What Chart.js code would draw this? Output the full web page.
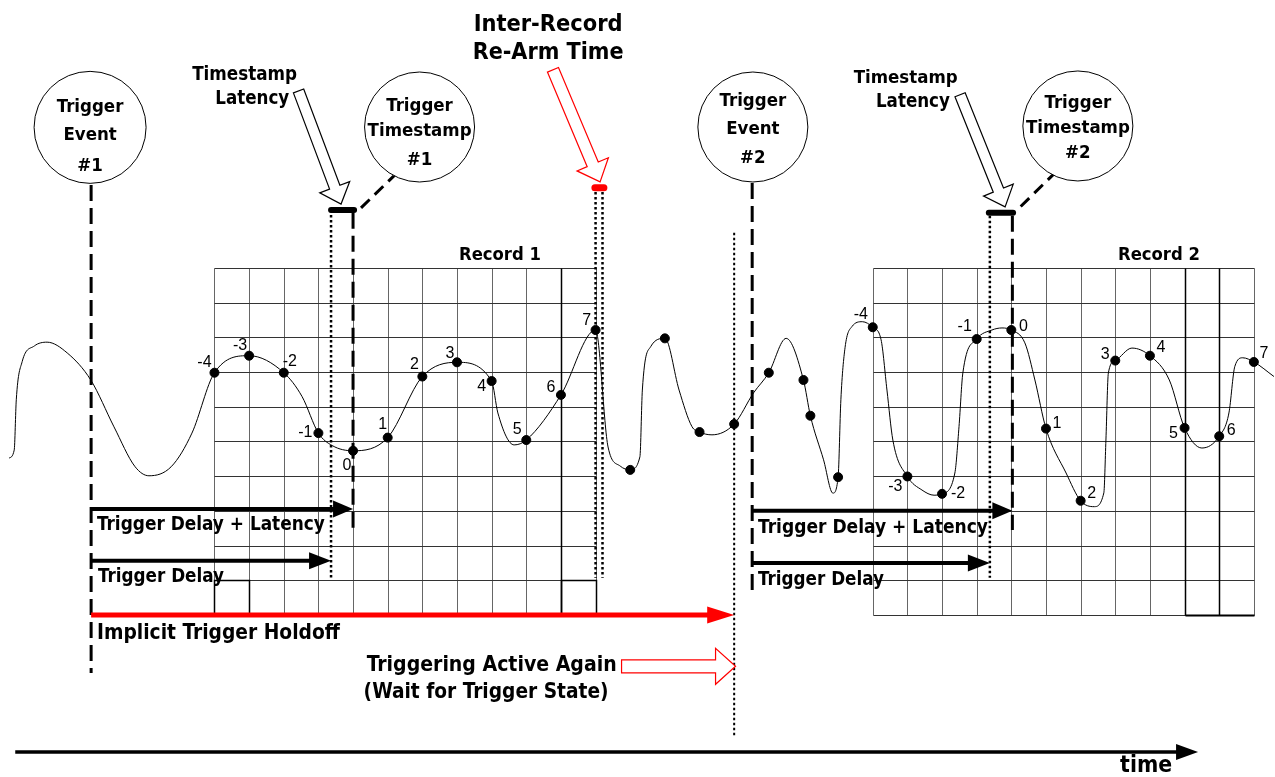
<!DOCTYPE html>
<html>
<head>
<meta charset="utf-8">
<script src="https://cdn.jsdelivr.net/npm/chart.js@4.4.0/dist/chart.umd.min.js"></script>
<style>
html, body { margin: 0; padding: 0; background: #fff; overflow: hidden; }
canvas { display: block; }
</style>
</head>
<body>
<canvas id="c" width="1275" height="777"></canvas>
<script>
/* **** DATA **** */
// x = time in sample periods (record 1 sample 0 at t = 0), y = level in grid divisions

const recordIndex = [-4, -3, -2, -1, 0, 1, 2, 3, 4, 5, 6, 7];
const recordStarts = [0, 19];           // time of sample 0 in record 1 / record 2
const gridRows = 10;

const record1Level = [6.98, 7.47, 6.98, 5.24, 4.73, 5.11, 6.87, 7.28, 6.74, 5.04, 6.34, 8.21];
const record2Level = [8.29, 3.99, 3.49, 7.95, 8.21, 5.37, 3.29, 7.33, 7.47, 5.39, 5.15, 7.29];

// samples taken between the records (not stored)
const gapTime  = [8, 9, 10, 11, 12, 13, 13.2, 14];
const gapLevel = [4.18, 7.97, 5.27, 5.50, 6.98, 6.77, 5.74, 3.97];

// extra points of the analog signal (no sample taken there)
const shapeTime  = [-9.93, -9.78, -9.72, -9.55, -9.2, -8.83, -8.25, -7.57, -6.90, -6.29, -5.89, -5.25, -4.65,
                    -1.47, -0.6, 4.18, 4.65, 7.36, 7.71, 8.28, 8.35, 8.59, 9.41, 9.78, 10.36, 11.56, 12.50,
                    13.58, 13.85, 14.08, 14.2, 14.4, 14.7, 15.24, 15.41, 15.58, 16.42, 16.77, 17.37, 17.49,
                    17.60, 18.44, 18.73, 19.39, 19.68, 20.58, 21.39, 21.67, 21.73, 21.80, 22.48, 23.56, 24.50,
                    25.28, 25.45, 25.68, 26.58];
const shapeLevel = [4.52, 4.75, 6.2, 7.3, 7.75, 7.86, 7.55, 6.77, 5.42, 4.27, 4.01, 4.27, 5.24,
                    6.29, 4.88, 5.82, 4.90, 4.84, 4.29, 4.56, 6.48, 7.73, 6.48, 5.43, 5.19, 6.40, 7.97,
                    4.47, 3.51, 6.2, 7.7, 8.31, 8.45, 7.93, 6.48, 5.04, 3.60, 3.45, 4.09, 5.43,
                    6.97, 8.21, 8.27, 7.84, 6.77, 4.09, 3.12, 3.52, 5.04, 6.97, 7.69, 6.77, 4.81,
                    5.82, 7.16, 7.41, 6.87];

// timing events
const tTrigger1 = -7.56, tDelay1 = -0.635, tStamp1 = 0;
const tRearmA = 7.0, tRearmB = 7.2, tActive = 11.0;
const tTrigger2 = 11.52, tDelay2 = 18.38, tStamp2 = 19.03;

/* **** BUILD **** */

const record1 = recordIndex.map((k, i) => ({x: recordStarts[0] + k, y: record1Level[i]}));
const record2 = recordIndex.map((k, i) => ({x: recordStarts[1] + k, y: record2Level[i]}));
const gap = gapTime.map((t, i) => ({x: t, y: gapLevel[i]}));
const shape = shapeTime.map((t, i) => ({x: t, y: shapeLevel[i]}));
const samples = [...record1, ...gap, ...record2];
const trace = [...samples, ...shape].sort((a, b) => a.x - b.x);

const HEAD = '"DejaVu Sans Condensed", "DejaVu Sans", sans-serif';
const PLAIN = '"Liberation Sans", Arial, sans-serif';

// label offsets (px) of sample numbers
const labelOff1 = [[-10,-10],[-9,-10],[6,-11],[-13,0],[-6,15],[-5,-13],[-8,-12],[-7,-9],[-10,6],[-9,-10],[-10,-7],[-9,-9]];
const labelOff2 = [[-12,-13],[-12,10],[16,0],[-12,-12],[12,-3],[11,-5],[11,-7],[-10,-6],[11,-8],[-11,6],[12,-6],[10,-8]];

function seg(ctx, x1, y1, x2, y2, color, width, dash, cap) {
    ctx.save();
    ctx.strokeStyle = color;
    ctx.lineWidth = width;
    ctx.setLineDash(dash || []);
    ctx.lineCap = cap || 'butt';
    ctx.beginPath();
    ctx.moveTo(x1, y1);
    ctx.lineTo(x2, y2);
    ctx.stroke();
    ctx.restore();
}

function solidArrow(ctx, x1, y, x2, color, width, hl, hh) {
    seg(ctx, x1, y, x2 - hl + 2, y, color, width);
    ctx.save();
    ctx.fillStyle = color;
    ctx.beginPath();
    ctx.moveTo(x2, y);
    ctx.lineTo(x2 - hl, y - hh);
    ctx.lineTo(x2 - hl, y + hh);
    ctx.closePath();
    ctx.fill();
    ctx.restore();
}

function hollowArrow(ctx, x1, y1, x2, y2, color, sh, hh, hl) {
    const L = Math.hypot(x2 - x1, y2 - y1);
    const ux = (x2 - x1) / L, uy = (y2 - y1) / L;
    const nx = -uy, ny = ux;
    const bx = x2 - ux * hl, by = y2 - uy * hl;
    ctx.save();
    ctx.beginPath();
    ctx.moveTo(x1 + nx * sh, y1 + ny * sh);
    ctx.lineTo(bx + nx * sh, by + ny * sh);
    ctx.lineTo(bx + nx * hh, by + ny * hh);
    ctx.lineTo(x2, y2);
    ctx.lineTo(bx - nx * hh, by - ny * hh);
    ctx.lineTo(bx - nx * sh, by - ny * sh);
    ctx.lineTo(x1 - nx * sh, y1 - ny * sh);
    ctx.closePath();
    ctx.fillStyle = '#fff';
    ctx.fill();
    ctx.strokeStyle = color;
    ctx.lineWidth = 1.2;
    ctx.stroke();
    ctx.restore();
}

// font size that makes text as wide as the given width
function fitSize(ctx, text, width) {
    ctx.save();
    ctx.fontStretch = 'condensed';
    ctx.font = 'bold 20px ' + HEAD;
    const s = 20 * width / ctx.measureText(text).width;
    ctx.restore();
    return s;
}

function heading(ctx, text, x, y, size, align) {
    ctx.save();
    ctx.fillStyle = '#000';
    ctx.fontStretch = 'condensed';
    ctx.font = 'bold ' + size.toFixed(2) + 'px ' + HEAD;
    ctx.textAlign = align || 'center';
    ctx.textBaseline = 'middle';
    ctx.fillText(text, x, y);
    ctx.restore();
}

function plain(ctx, text, x, y) {
    ctx.save();
    ctx.fillStyle = '#000';
    ctx.font = '16px ' + PLAIN;
    ctx.textAlign = 'center';
    ctx.textBaseline = 'middle';
    ctx.fillText(text, x, y);
    ctx.restore();
}

const diagram = {
    id: 'diagram',
    beforeDatasetsDraw(chart) {
        const {ctx, scales: {x, y}} = chart;
        const X = v => Math.round(x.getPixelForValue(v)) + 0.5;
        const Y = v => Math.round(y.getPixelForValue(v)) + 0.5;
        recordStarts.forEach((s, r) => {
            const t0 = s + recordIndex[0], t1 = s + recordIndex[recordIndex.length - 1];
            for (let t = t0; t <= t1; t++) seg(ctx, X(t), Y(0), X(t), Y(gridRows), '#666', 1);
            for (let v = 0; v <= gridRows; v++) seg(ctx, X(t0), Y(v), X(t1), Y(v), '#333', 1);
            // darker columns and bottom boxes
            const dark = r === 0 ? [6] : [5, 6];
            dark.forEach(k => seg(ctx, X(s + k), Y(0), X(s + k), Y(gridRows), '#000', 1.5));
            ctx.save();
            ctx.strokeStyle = '#000';
            ctx.lineWidth = 1.5;
            if (r === 0) {
                ctx.strokeRect(X(t0), Y(1), X(t0 + 1) - X(t0), Y(0) - Y(1));
                ctx.strokeRect(X(t1 - 1), Y(1), X(t1) - X(t1 - 1), Y(0) - Y(1));
            } else {
                seg(ctx, X(t1 - 2), Y(0), X(t1), Y(0), '#000', 2);
            }
            ctx.restore();
        });
    },
    afterDatasetsDraw(chart) {
        const {ctx, scales: {x, y}} = chart;
        const X = v => x.getPixelForValue(v);
        const Y = v => y.getPixelForValue(v);

        // sample numbers
        recordIndex.forEach((k, i) => {
            const p1 = record1[i], p2 = record2[i];
            plain(ctx, String(k), X(p1.x) + labelOff1[i][0], Y(p1.y) + labelOff1[i][1]);
            plain(ctx, String(k), X(p2.x) + labelOff2[i][0], Y(p2.y) + labelOff2[i][1]);
        });

        // vertical dashed event lines
        const dashed = [[tTrigger1, 12.39, -1.67], [tTrigger2, 12.45, 0.72], [tStamp1, 11.59, 2.31], [tStamp2, 11.50, 2.45]];
        dashed.forEach(d => seg(ctx, X(d[0]), Y(d[1]), X(d[0]), Y(d[2]), '#000', 3, [16, 7]));
        const dotted = [[tDelay1, 11.67, 1.07, 2.5], [tRearmA, 12.19, 1.07, 2.5], [tRearmB, 12.19, 1.07, 2.5],
                        [tActive, 11.01, -3.52, 2], [tDelay2, 11.50, 1.07, 2.5]];
        dotted.forEach(d => seg(ctx, X(d[0]), Y(d[1]), X(d[0]), Y(d[2]), '#000', d[3], [2.5, 2.5]));

        // timestamp latency bars
        seg(ctx, X(tDelay1), Y(11.67), X(tStamp1 + 0.03), Y(11.67), '#000', 6, null, 'round');
        seg(ctx, X(tDelay2 - 0.03), Y(11.59), X(tStamp2 + 0.02), Y(11.59), '#000', 6, null, 'round');
        seg(ctx, X(6.98), Y(12.31), X(7.24), Y(12.31), '#f00', 7, null, 'round');

        // leaders to timestamp circles
        seg(ctx, X(0.23), Y(11.73), X(1.21), Y(12.68), '#000', 3, [12, 7]);
        seg(ctx, X(19.27), Y(11.77), X(20.23), Y(12.71), '#000', 3, [12, 7]);

        // circles: centre, radius, lines [text, level]
        const circleSize = fitSize(ctx, 'Timestamp', 104);
        const circles = [
            [-7.59, 14.05, 56, [['Trigger', 14.64], ['Event', 13.83], ['#1', 12.94]]],
            [1.92, 14.06, 55, [['Trigger', 14.67], ['Timestamp', 13.95], ['#1', 13.11]]],
            [11.54, 14.06, 55, [['Trigger', 14.81], ['Event', 14.01], ['#2', 13.17]]],
            [20.92, 14.09, 55, [['Trigger', 14.76], ['Timestamp', 14.03], ['#2', 13.31]]]
        ];
        circles.forEach(c => {
            ctx.save();
            ctx.beginPath();
            ctx.arc(X(c[0]), Y(c[1]), c[2], 0, Math.PI * 2);
            ctx.fillStyle = '#fff';
            ctx.fill();
            ctx.strokeStyle = '#000';
            ctx.lineWidth = 1;
            ctx.stroke();
            ctx.restore();
            c[3].forEach(l => heading(ctx, l[0], X(c[0]), Y(l[1]), circleSize));
        });

        // hollow arrows
        hollowArrow(ctx, X(-1.573), Y(15.10), X(-0.346), Y(11.84), '#000', 5.5, 16, 18);
        hollowArrow(ctx, X(17.52), Y(14.99), X(18.82), Y(11.76), '#000', 5.5, 16, 18);
        hollowArrow(ctx, X(5.77), Y(15.71), X(7.13), Y(12.48), '#f00', 6, 17, 19);
        hollowArrow(ctx, X(7.75), Y(-1.48), X(tActive + 0.04), Y(-1.48), '#f00', 6.5, 18, 20);

        // solid arrows
        solidArrow(ctx, X(tTrigger1), Y(3.05), X(tStamp1), '#000', 4, 20, 8.5);
        solidArrow(ctx, X(tTrigger1), Y(1.56), X(tDelay1), '#000', 4, 22, 8.5);
        solidArrow(ctx, X(tTrigger2), Y(3.0), X(tStamp2), '#000', 4, 20, 8.5);
        solidArrow(ctx, X(tTrigger2), Y(1.50), X(tDelay2), '#000', 4, 22, 8.5);
        solidArrow(ctx, X(tTrigger1), Y(0), X(tActive), '#f00', 5, 27, 8.5);
        solidArrow(ctx, X(-9.75), Y(-3.95), X(24.39), '#000', 3.5, 22, 8);

        // texts: text, time, level, width, align
        const texts = [
            ['Inter-Record', 5.63, 17.0, 149, 'center'],
            ['Re-Arm Time', 5.63, 16.20, 151, 'center'],
            ['Timestamp', -3.13, 15.56, 105, 'center'],
            ['Latency', -2.91, 14.87, 74, 'center'],
            ['Timestamp', 15.95, 15.48, 104, 'center'],
            ['Latency', 16.16, 14.79, 74, 'center'],
            ['Record 1', 4.24, 10.37, 82, 'center'],
            ['Record 2', 23.26, 10.37, 82, 'center'],
            ['Trigger Delay + Latency', -7.39, 2.59, 228, 'left'],
            ['Trigger Delay', -7.36, 1.10, 126, 'left'],
            ['Implicit Trigger Holdoff', -7.39, -0.55, 243, 'left'],
            ['Trigger Delay + Latency', 11.69, 2.51, 230, 'left'],
            ['Trigger Delay', 11.69, 1.01, 126, 'left'],
            ['Triggering Active Again', 4.0, -1.47, 250, 'center'],
            ['(Wait for Trigger State)', 3.84, -2.25, 245, 'center'],
            ['time', 22.89, -4.35, 52, 'center']
        ];
        texts.forEach(t => heading(ctx, t[0], X(t[1]), Y(t[2]), fitSize(ctx, t[0], t[3]), t[4]));
    }
};

/* **** MAIN **** */

const canvas = document.getElementById('c');
let chart = new Chart(canvas, {
    type: 'line',
    data: {
        datasets: [{
            label: 'signal',
            data: trace,
            borderColor: '#000',
            borderWidth: 1,
            pointRadius: 0,
            cubicInterpolationMode: 'monotone',
            order: 2
        }, {
            label: 'samples',
            data: samples,
            showLine: false,
            pointRadius: 4.5,
            pointBackgroundColor: '#000',
            pointBorderColor: '#000',
            order: 1
        }]
    },
    options: {
        responsive: false,
        animation: false,
        events: [],
        layout: { padding: 0, autoPadding: false },
        scales: {
            x: { type: 'linear', min: -10.19, max: 26.61, display: false },
            y: { type: 'linear', min: -4.67, max: 17.72, display: false }
        },
        plugins: { legend: { display: false }, tooltip: { enabled: false } }
    },
    plugins: [diagram]
});
</script>
</body>
</html>
